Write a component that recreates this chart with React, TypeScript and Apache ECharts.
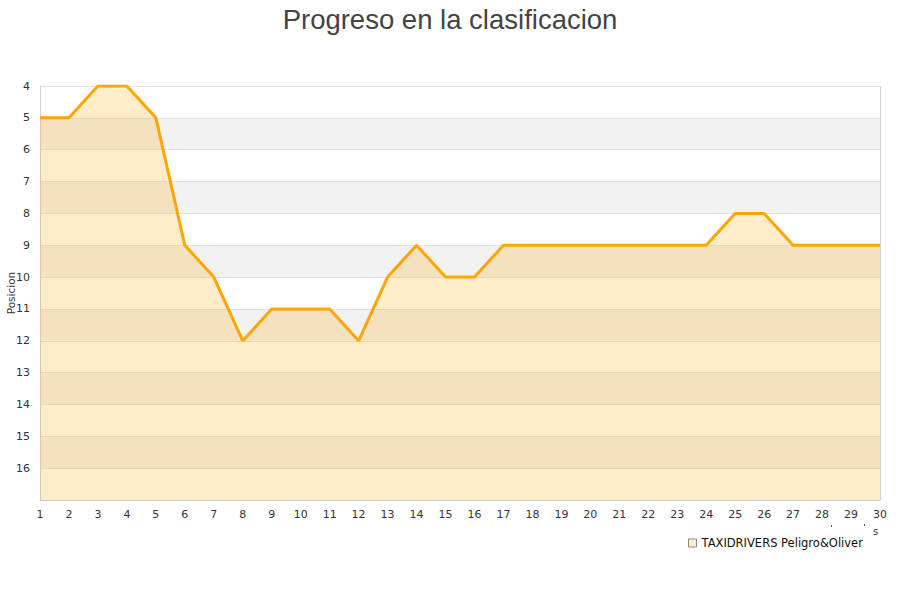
import React, { useEffect, useRef } from "react";
import * as echarts from "echarts";

const jornadas = Array.from({ length: 30 }, (_, i) => String(i + 1));
const posiciones = [5, 5, 4, 4, 5, 9, 10, 12, 11, 11, 11, 12, 10, 9, 10, 10, 9, 9, 9, 9, 9, 9, 9, 9, 8, 8, 9, 9, 9, 9];
const serieNombre = "TAXIDRIVERS Peligro&Oliver";
const titulo = "Progreso en la clasificacion";
const ejeY = "Posicion";

export default function App() {
  const ref = useRef<HTMLDivElement>(null);
  useEffect(() => {
    document.body.style.margin = "0";
    const chart = echarts.init(ref.current!, null, { renderer: "svg" });
    chart.setOption({
      animation: false,
      backgroundColor: "#ffffff",
      title: {
        text: titulo,
        left: "center",
        top: 0,
        textStyle: { fontFamily: "Liberation Sans", fontSize: 27.5, fontWeight: "normal", color: "#444444" },
      },
      grid: { left: 40, right: 20, top: 86, bottom: 100, containLabel: false, outerBoundsMode: "none" },
      legend: {
        data: [{ name: serieNombre, itemStyle: { color: "#ffedcc", borderColor: "#8a8a8a", borderWidth: 1 } }],
        left: 683,
        top: 532,
        icon: "rect",
        itemWidth: 8,
        itemHeight: 8,
        itemGap: 5,
        textStyle: { fontFamily: "DejaVu Sans", fontSize: 11.5, color: "#111" },
      },
      xAxis: {
        type: "category",
        data: jornadas,
        boundaryGap: false,
        axisLine: { show: true, lineStyle: { color: "#d0d0d0" } },
        axisTick: { show: false },
        axisLabel: { fontFamily: "DejaVu Sans", fontSize: 11, color: "#333", margin: 9 },
        splitLine: { show: false },
      },
      yAxis: {
        type: "value",
        inverse: true,
        min: 4,
        max: 17,
        interval: 1,
        axisLine: { show: true, lineStyle: { color: "#d0d0d0" } },
        axisTick: { show: false },
        axisLabel: {
          fontFamily: "DejaVu Sans",
          fontSize: 11,
          color: "#333",
          margin: 10,
          formatter: (v: number) => (v === 17 ? "" : String(v)),
        },
        splitLine: { show: true, lineStyle: { color: "#e2e2e2" } },
        splitArea: { show: true, areaStyle: { color: ["#ffffff", "#f2f2f2"] } },
      },
      graphic: [
        { type: "rect", shape: { x: 880, y: 86, width: 1, height: 414 }, style: { fill: "#d0d0d0" }, z: 10 },
        {
          type: "text",
          x: 10.5,
          y: 293,
          rotation: Math.PI / 2,
          style: { text: ejeY, fontFamily: "DejaVu Sans", fontSize: 10.5, fill: "#333", align: "center", verticalAlign: "middle" },
        },
        { type: "text", x: 873, y: 526, style: { text: "s", fontFamily: "DejaVu Sans", fontSize: 10, fill: "#333" } },
        { type: "rect", shape: { x: 831, y: 525, width: 1, height: 2 }, style: { fill: "#555" } },
        { type: "rect", shape: { x: 864, y: 524, width: 1, height: 2 }, style: { fill: "#555" } },
      ],
      series: [
        {
          name: serieNombre,
          type: "line",
          data: posiciones,
          symbol: "none",
          lineStyle: { color: "#ffa500", width: 3 },
          itemStyle: { color: "#ffa500" },
          areaStyle: { color: "rgba(255,165,0,0.21)", opacity: 1, origin: "end" },
        },
      ],
    });
    return () => chart.dispose();
  }, []);
  return <div ref={ref} style={{ position: "absolute", left: 0, top: 0, width: 900, height: 600 }} />;
}
